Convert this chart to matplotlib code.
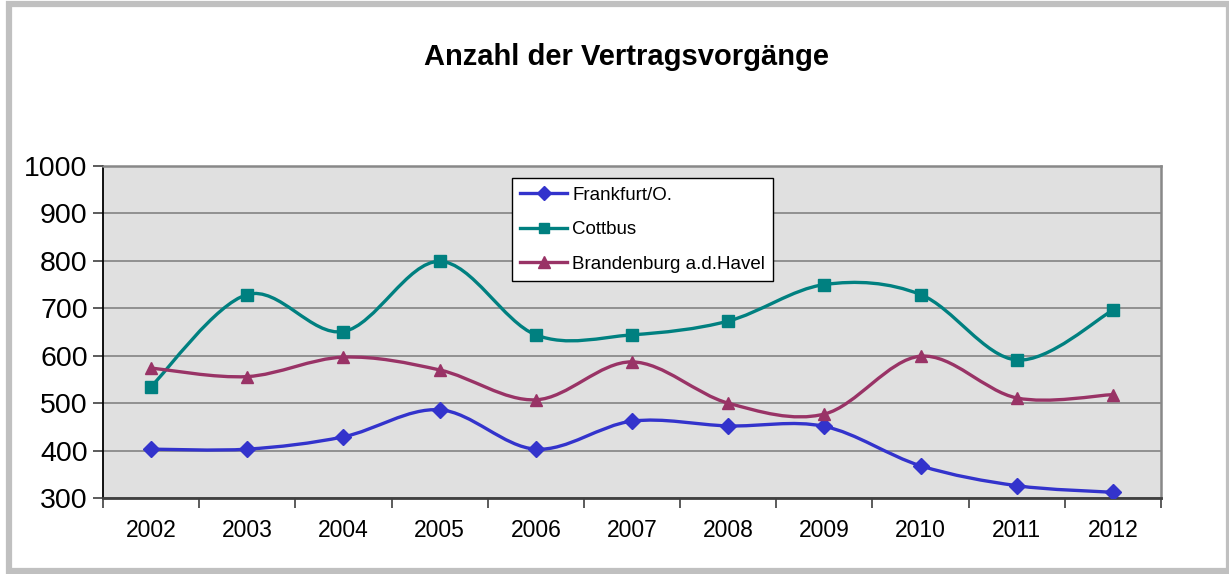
import matplotlib
matplotlib.use("Agg")
import matplotlib.pyplot as plt
from matplotlib.path import Path
from matplotlib.patches import PathPatch, Rectangle
import numpy as np

years = ["2002", "2003", "2004", "2005", "2006", "2007", "2008", "2009", "2010", "2011", "2012"]
frankfurt = [403, 403, 429, 486, 403, 462, 452, 451, 368, 326, 312]
cottbus = [535, 729, 651, 799, 644, 644, 673, 750, 729, 591, 696]
brandenburg = [574, 556, 597, 570, 507, 587, 500, 477, 599, 511, 518]
series_names = ["Frankfurt/O.", "Cottbus", "Brandenburg a.d.Havel"]
yticks = [300, 400, 500, 600, 700, 800, 900, 1000]

plt.rcParams['font.family'] = ['Liberation Sans', 'DejaVu Sans']

fig = plt.figure(figsize=(12.29, 5.74), dpi=100)
ax = fig.add_axes([103/1229, 1-498/574, (1161-103)/1229, (498-166)/574])
ax.set_facecolor('#e0e0e0')

def smooth_path(xs, ys):
    pts = np.column_stack([xs, ys]).astype(float)
    n = len(pts)
    verts = [pts[0]]
    codes = [Path.MOVETO]
    for i in range(n - 1):
        p0 = pts[i - 1] if i > 0 else pts[i]
        p1 = pts[i]
        p2 = pts[i + 1]
        p3 = pts[i + 2] if i + 2 < n else pts[i + 1]
        c1 = p1 + (p2 - p0) / 6.0
        c2 = p2 - (p3 - p1) / 6.0
        verts += [c1, c2, p2]
        codes += [Path.CURVE4] * 3
    return Path(verts, codes)

x = np.arange(len(years))
styles = [
    (frankfurt, '#3333cc', 'D', 8),
    (cottbus, '#008080', 's', 8),
    (brandenburg, '#993366', '^', 9),
]
handles = []
for (vals, col, mk, ms), name in zip(styles, series_names):
    patch = PathPatch(smooth_path(x, vals), facecolor='none', edgecolor=col,
                      lw=2.4, zorder=3, capstyle='round', joinstyle='round')
    ax.add_patch(patch)
    ax.plot(x, vals, linestyle='none', marker=mk, markersize=ms,
            color=col, zorder=4)
    h, = ax.plot([], [], color=col, lw=2.4, marker=mk, markersize=ms - 1, label=name)
    handles.append(h)

ax.set_xlim(-0.5, len(years) - 0.5)
ax.set_ylim(300, 1000)
ax.set_yticks(yticks)
ax.set_yticklabels([str(v) for v in yticks], fontsize=20.5)
ax.yaxis.grid(True, color='#909090', lw=1.4, zorder=1)
ax.set_axisbelow(True)

ax.set_xticks(x)
ax.set_xticklabels(years, fontsize=16.5)
ax.set_xticks(np.arange(-0.5, len(years), 1.0), minor=True)
ax.tick_params(axis='x', which='major', length=0, pad=15)
ax.tick_params(axis='x', which='minor', length=7, width=1.2, color='#404040')
ax.tick_params(axis='y', which='major', length=7, width=1.2, color='#404040', pad=4)

for s in ['top', 'right']:
    ax.spines[s].set_color('#888888')
    ax.spines[s].set_linewidth(1.8)
ax.spines['left'].set_color('#000000')
ax.spines['left'].set_linewidth(1.3)
ax.spines['bottom'].set_color('#404040')
ax.spines['bottom'].set_linewidth(2.0)

leg = ax.legend(handles=handles, loc='upper left',
                bbox_to_anchor=((512-103)/1058, (498-178)/332),
                fontsize=13.5, frameon=True, fancybox=False, framealpha=1,
                edgecolor='black', borderpad=0.45, labelspacing=0.93,
                handlelength=2.5, handletextpad=0.25, borderaxespad=0)
leg.get_frame().set_linewidth(1.0)
leg.set_zorder(10)

fig.text(626/1229, 1-57/574, "Anzahl der Vertragsvorgänge", ha='center', va='center',
         fontsize=21, fontweight='bold')

fig.patches.append(Rectangle((9/1229, 3/574), (1229-9)/1229 - 0.5/1229, (567)/574,
                             transform=fig.transFigure, fill=False,
                             edgecolor='#c0c0c0', lw=4.5))

fig.savefig('out.png', dpi=100, facecolor='white')
